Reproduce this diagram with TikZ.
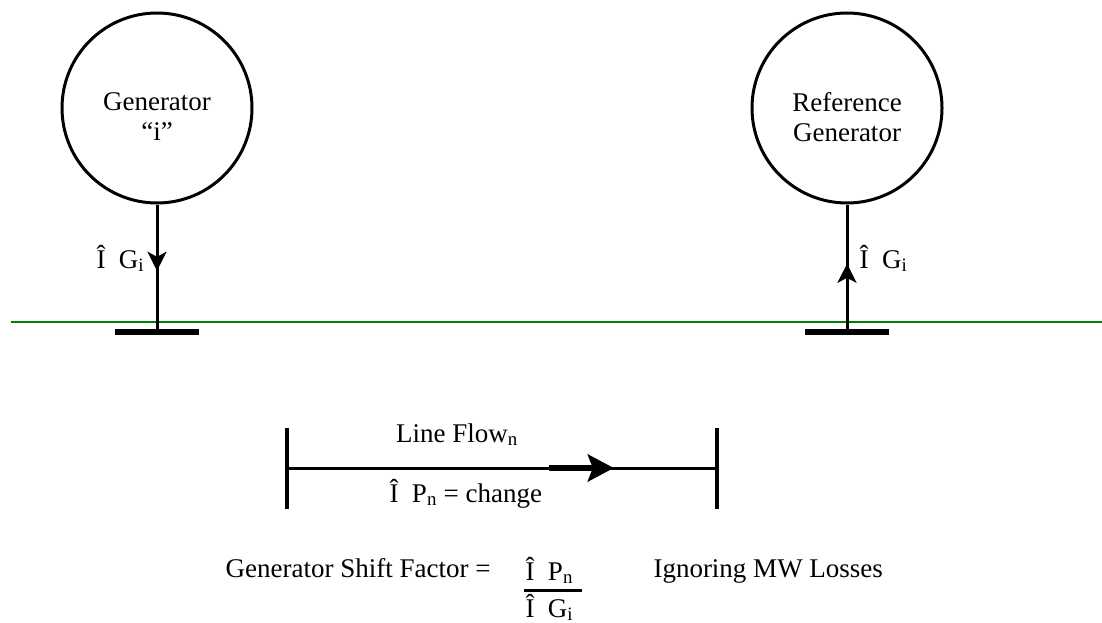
\documentclass[tikz,border=0pt]{standalone}
\usepackage{fontspec}
\setmainfont{Liberation Serif}
\newfontfamily\timesfont{Liberation Serif}
\usetikzlibrary{arrows.meta,calc,decorations.markings}

\begin{document}
\begin{tikzpicture}[x=1pt, y=-1pt, line width=3pt,
    gen/.style={circle, draw, line width=3pt, minimum size=190pt, inner sep=0pt},
    txt/.style={inner sep=0pt, font=\timesfont\fontsize{27}{30}\selectfont},
    bus/.style={fill, inner sep=0pt, minimum width=84pt, minimum height=6pt},
    vbar/.style={fill, inner sep=0pt, minimum width=4pt, minimum height=81pt},
    tip/.style={decoration={markings, mark=at position #1 with {\arrow{Stealth[length=19pt 0 0, width=19pt 0 0, inset=5pt]}}}, postaction={decorate}}]
    \useasboundingbox (0,0) rectangle (1102,623);
    \node[gen] (geni) at (157,108) {};
    \node[gen] (genref) at (847,108) {};
    \node[txt, align=center] (genitext) at (157,117) {Generator\\“i”};
    \node[txt, align=center] (genreftext) at (847,117) {Reference\\Generator};
    \node[bus] (busi) at (157,332) {};
    \node[bus] (busref) at (847,332) {};
    \draw[line width=2pt, green!50!black] (11,322) -- (1102,322);
    \draw[tip=0.52] (geni.south) -- (busi.center);
    \draw[tip=0.535] (busref.center) -- (genref.south);
    \node[txt, anchor=base west] (dgi) at (95,268) {Î\ \ G\textsubscript{i}};
    \node[txt, anchor=base west] (dgref) at (858,268) {Î\ \ G\textsubscript{i}};
    \node[vbar] (lfa) at (287,468) {};
    \node[vbar] (lfb) at (717,468) {};
    \draw (lfa.center) -- (lfb.center);
    \draw[line width=6pt, -{Stealth[length=26pt 0 0, width=27pt 0 0, inset=5pt]}] ($(lfa.center)!0.61!(lfb.center)$) -- ($(lfa.center)!0.76!(lfb.center)$);
    \node[txt, anchor=base] (flow) at (457,442) {Line Flow\textsubscript{n}};
    \node[txt, anchor=base west] (dpn) at (388,502) {Î\ \ P\textsubscript{n} = change};
    \node[txt, anchor=base east] (gsf) at (492,577) {Generator Shift Factor =};
    \node[txt, anchor=base west] (num) at (524,580) {Î\ \ P\textsubscript{n}};
    \node[txt, anchor=base west] (den) at (524,617) {Î\ \ G\textsubscript{i}};
    \coordinate (fa) at (524,590);
    \coordinate (fb) at (582,590);
    \draw (fa) -- (fb);
    \node[txt, anchor=base west] (ign) at (652,577) {Ignoring MW Losses};
\end{tikzpicture}
\end{document}
